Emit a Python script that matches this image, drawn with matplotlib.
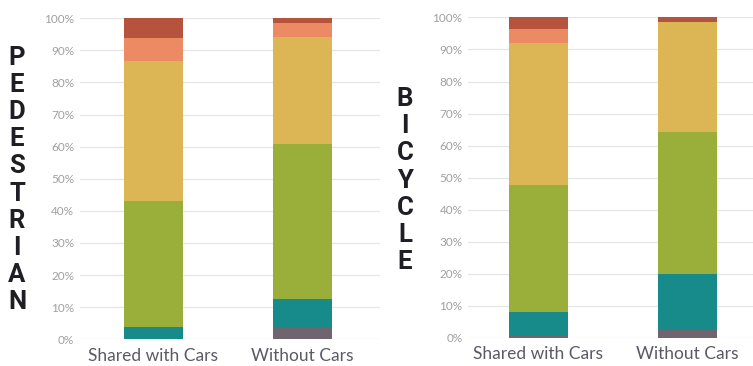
import numpy as np
import matplotlib.pyplot as plt

categories = ["Shared with Cars", "Without Cars"]
segment_names = ["Gray", "Teal", "Green", "Yellow", "Salmon", "Red"]
colors = ["#6f6570", "#178a8a", "#9aae3a", "#dcb555", "#ec8b63", "#b6533d"]

# share of responses per segment, in percent
pedestrian = {
    "Gray":   [0.0, 3.7],
    "Teal":   [3.9, 8.8],
    "Green":  [39.3, 48.2],
    "Yellow": [43.5, 33.6],
    "Salmon": [7.3, 4.3],
    "Red":    [6.0, 1.4],
}
bicycle = {
    "Gray":   [1.0, 2.4],
    "Teal":   [7.1, 17.5],
    "Green":  [39.5, 44.4],
    "Yellow": [44.5, 34.2],
    "Salmon": [4.2, 0.0],
    "Red":    [3.7, 1.5],
}

plt.rcParams["font.family"] = ["Lato", "DejaVu Sans"]

fig = plt.figure(figsize=(7.53, 3.66), dpi=100)
ax1 = fig.add_axes([0.106, 0.073, 0.398, 0.877])
ax2 = fig.add_axes([0.6215, 0.0773, 0.3785, 0.875])


def stacked(ax, data, xlim):
    x = np.arange(len(categories))
    bottom = np.zeros(len(categories))
    for name, c in zip(segment_names, colors):
        vals = np.array(data[name])
        ax.bar(x, vals, bottom=bottom, width=0.396, color=c, zorder=3)
        bottom += vals
    ax.set_ylim(0, 100)
    ax.set_xlim(*xlim)
    ax.set_yticks(np.arange(0, 101, 10))
    ax.set_yticklabels([f"{v}%" for v in range(0, 101, 10)])
    ax.set_xticks(x)
    ax.set_xticklabels(categories)
    ax.grid(axis="y", color="#e6e6e6", linewidth=0.9, zorder=0)
    ax.tick_params(axis="y", length=0, labelsize=8.5, labelcolor="#a0a0a0", pad=4)
    ax.tick_params(axis="x", length=0, labelsize=12.5, labelcolor="#5a5a66", pad=6)
    for s in ax.spines.values():
        s.set_visible(False)


stacked(ax1, pedestrian, (-0.493, 1.52))
stacked(ax2, bicycle, (-0.473, 1.44))

fig.text(17 / 753, 1 - 180 / 366, "\n".join("PEDESTRIAN"), ha="center", va="center",
         fontsize=18.5, fontweight="bold", color="#1e1e24", linespacing=1.16,
         family=["Roboto", "DejaVu Sans"])
fig.text(405 / 753, 1 - 180.5 / 366, "\n".join("BICYCLE"), ha="center", va="center",
         fontsize=18.5, fontweight="bold", color="#1e1e24", linespacing=1.16,
         family=["Roboto", "DejaVu Sans"])

fig.savefig("out.png", dpi=100)
